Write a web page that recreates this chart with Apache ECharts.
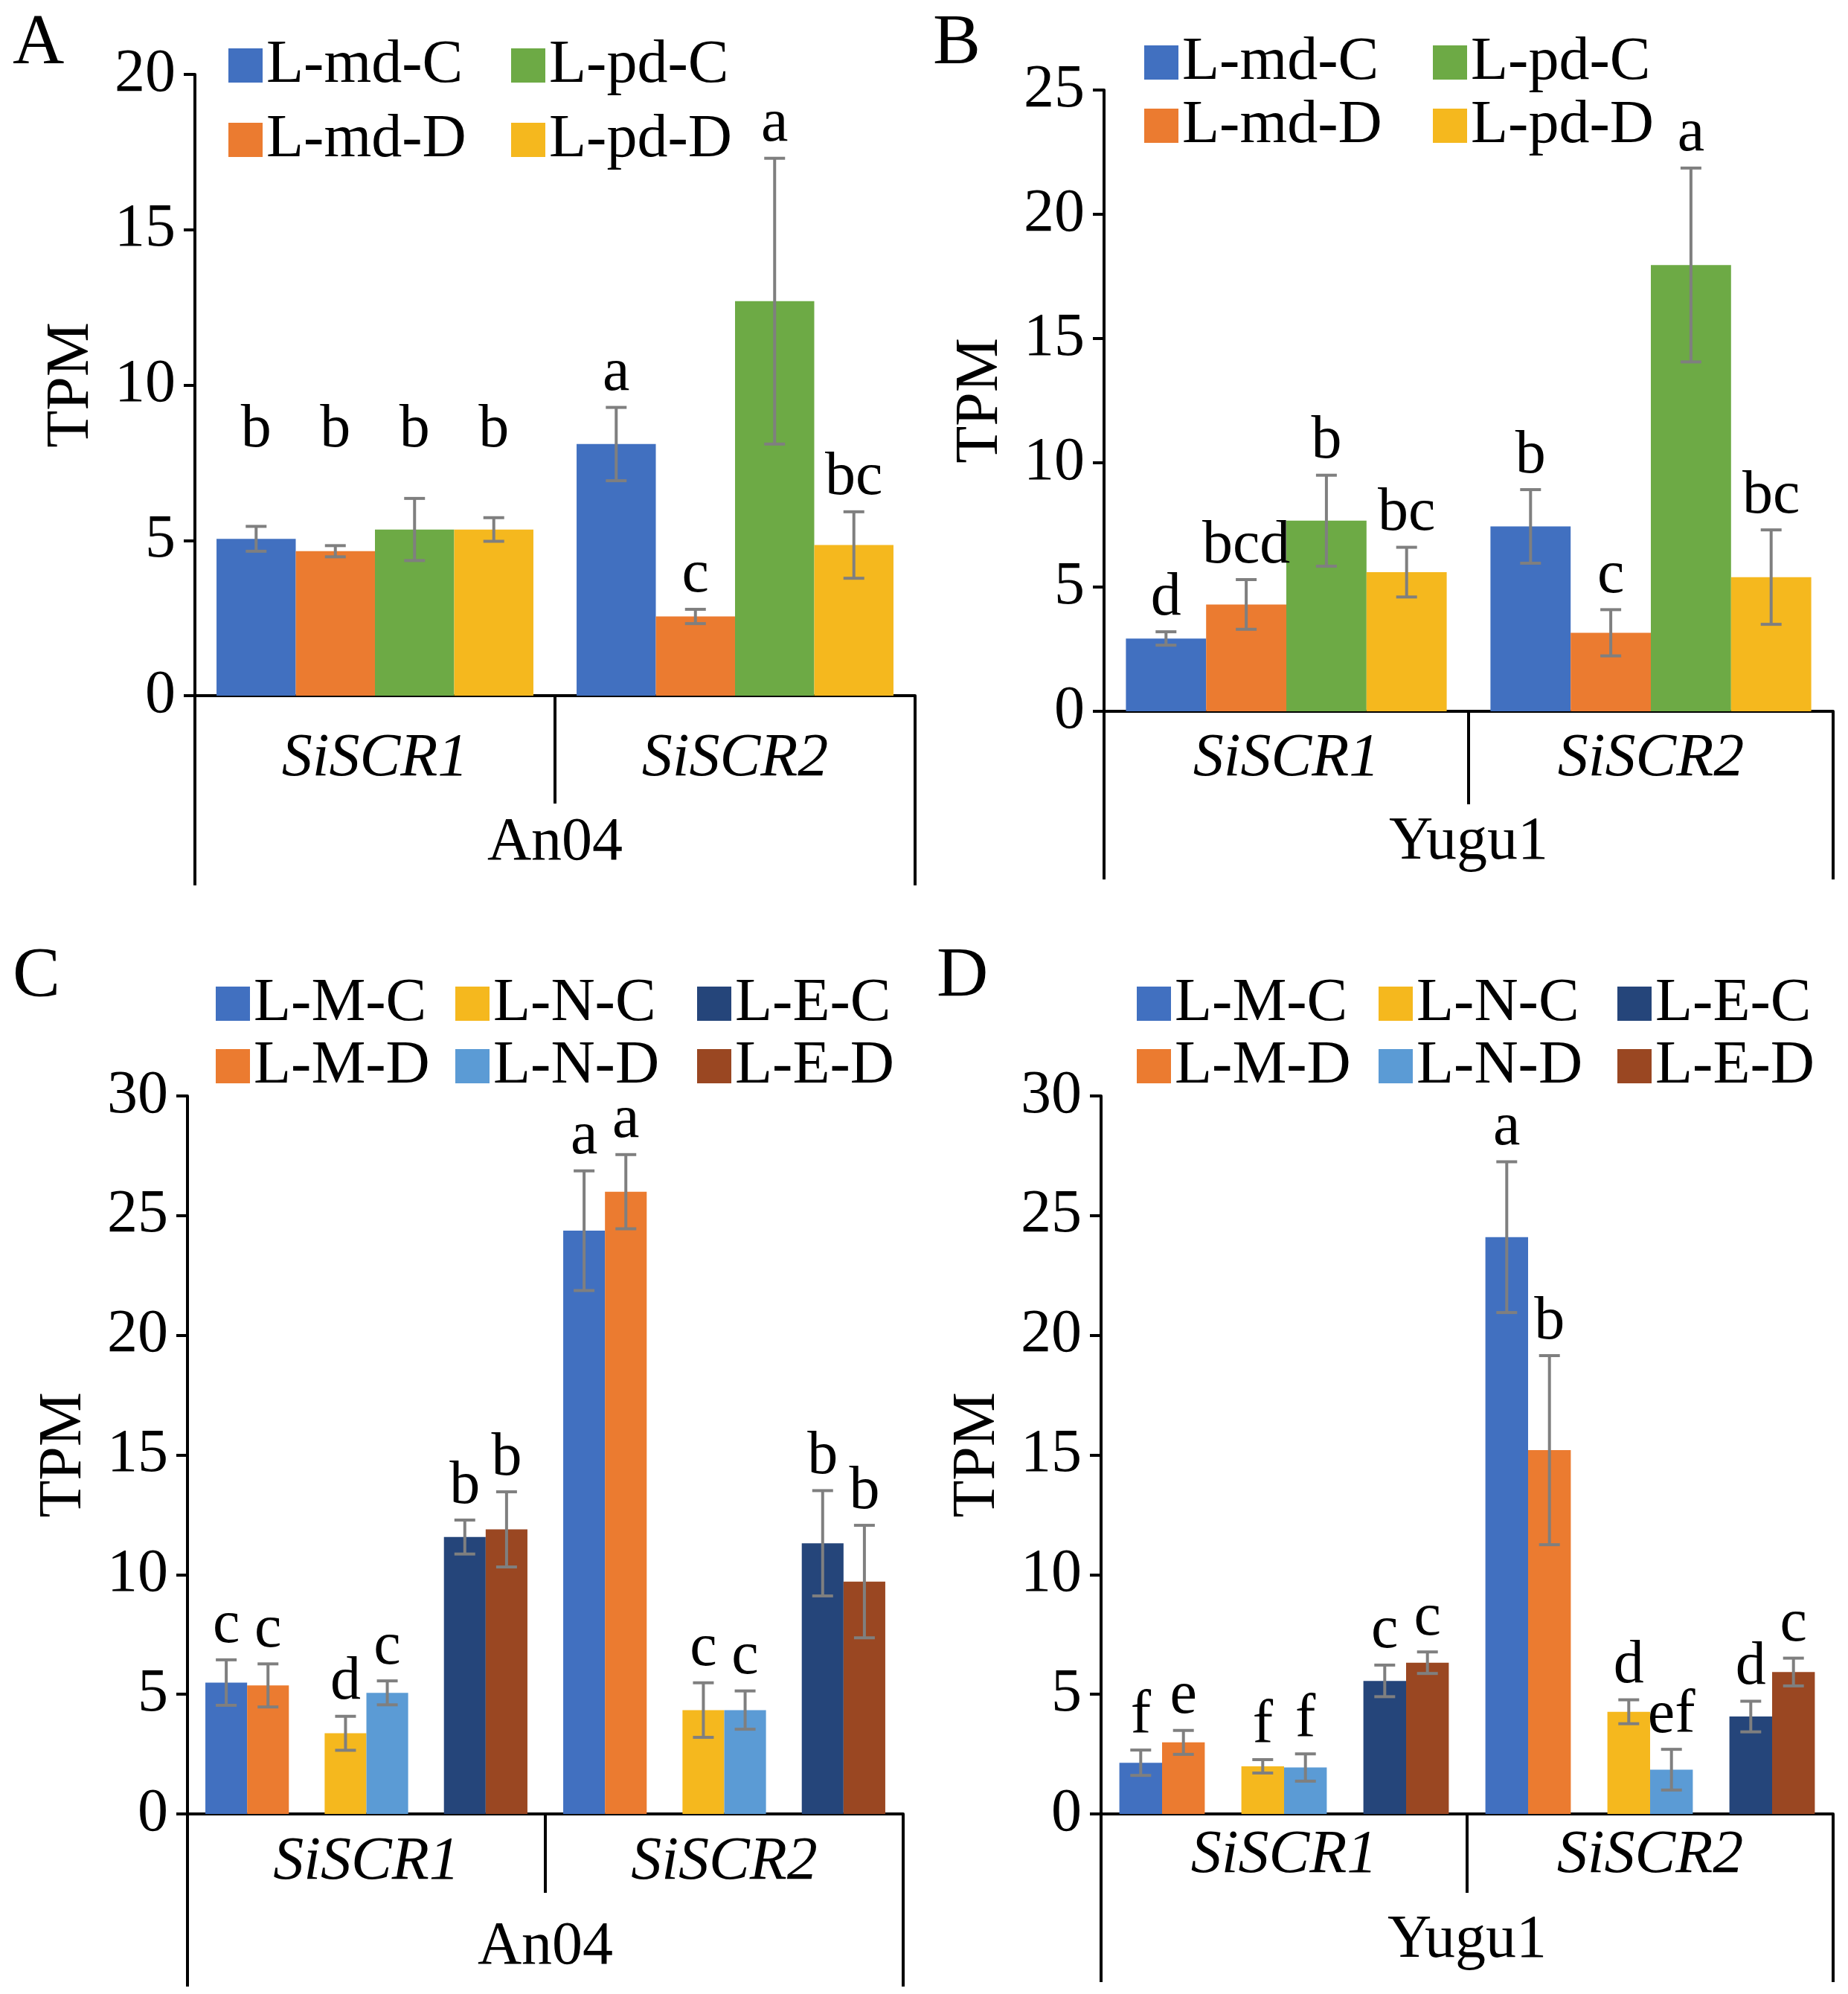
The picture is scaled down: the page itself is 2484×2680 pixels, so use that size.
<!DOCTYPE html>
<html>
<head>
<meta charset="utf-8">
<script src="https://cdn.jsdelivr.net/npm/echarts@6/dist/echarts.min.js"></script>
<style>
  html, body { margin: 0; padding: 0; background: #fff; }
  #chart { width: 2484px; height: 2680px; }
</style>
</head>
<body>
<div id="chart"></div>
<script>
"use strict";
// 基因（两个大类）
var genes = ['SiSCR1', 'SiSCR2'];

// A / B 面板：四个处理，每个数组按基因排列 [SiSCR1, SiSCR2]
var abNames = ['L-md-C', 'L-md-D', 'L-pd-C', 'L-pd-D'];
var aMean = [[5.05, 8.10], [4.65, 2.55], [5.35, 12.70], [5.35, 4.85]];
var aErr  = [[0.40, 1.18], [0.18, 0.23], [1.00, 4.60], [0.38, 1.07]];
var aSig  = [['b', 'a'], ['b', 'c'], ['b', 'a'], ['b', 'bc']];

var bMean = [[2.93, 7.44], [4.30, 3.16], [7.67, 17.96], [5.60, 5.40]];
var bErr  = [[0.27, 1.48], [1.00, 0.93], [1.83, 3.90], [1.00, 1.90]];
var bSig  = [['d', 'b'], ['bcd', 'c'], ['b', 'a'], ['bc', 'bc']];

// C / D 面板：六个处理（按柱子顺序）
var cdNames = ['L-M-C', 'L-M-D', 'L-N-C', 'L-N-D', 'L-E-C', 'L-E-D'];
var cdSub = ['M', 'N', 'E'];
var cMean = [[5.49, 24.37], [5.37, 26.00], [3.37, 4.34], [5.06, 4.34], [11.57, 11.31], [11.89, 9.71]];
var cErr  = [[0.95, 2.50], [0.90, 1.55], [0.71, 1.14], [0.50, 0.80], [0.71, 2.20], [1.57, 2.35]];
var cSig  = [['c', 'a'], ['c', 'a'], ['d', 'c'], ['c', 'c'], ['b', 'b'], ['b', 'b']];

var dMean = [[2.14, 24.10], [2.99, 15.20], [1.99, 4.27], [1.94, 1.85], [5.56, 4.07], [6.32, 5.93]];
var dErr  = [[0.53, 3.15], [0.50, 3.95], [0.28, 0.50], [0.57, 0.85], [0.66, 0.64], [0.45, 0.58]];
var dSig  = [['f', 'a'], ['e', 'b'], ['f', 'd'], ['f', 'ef'], ['c', 'd'], ['c', 'c']];

var abColors = ['#4170C0', '#EB7B30', '#6DAA45', '#F5B81E'];
var cdColors = ['#4170C0', '#EB7B30', '#F5B81E', '#5B9BD5', '#25457A', '#9A4722'];

var FONT = '"Liberation Serif", "Times New Roman", serif';
var FS = 82;

var myChart = echarts.init(document.getElementById('chart'));

var grids = [], xAxes = [], yAxes = [], series = [], legends = [], titles = [];

// 误差线 + 显著性字母
// align: 每个基因组的字母是否对齐到该组最高误差线之上（像素间距），null 为跟随各自误差线
function errRender(n, frac, sigs, groupOf, groupTop, align) {
    return function(params, api) {
        var cat = api.value(0);
        var band = api.size([1, 0])[0];
        var barW = band * frac;
        var cx = api.coord([cat, 0])[0] + (api.value(3) - (n - 1) / 2) * barW;
        var m = api.value(1), e = api.value(2);
        var yTop = api.coord([cat, m + e])[1];
        var yBot = api.coord([cat, m - e])[1];
        var g = groupOf[params.dataIndex];
        var yTxt = yTop - 4;
        if (align && align[g] != null) {
            yTxt = api.coord([cat, groupTop[g]])[1] - align[g];
        }
        var cap = 14;
        var st = { stroke: '#7F7F7F', lineWidth: 4 };
        return {
            type: 'group',
            children: [
                { type: 'line', shape: { x1: cx, y1: yTop, x2: cx, y2: yBot }, style: st },
                { type: 'line', shape: { x1: cx - cap, y1: yTop, x2: cx + cap, y2: yTop }, style: st },
                { type: 'line', shape: { x1: cx - cap, y1: yBot, x2: cx + cap, y2: yBot }, style: st },
                {
                    type: 'text', x: cx, y: yTxt,
                    style: {
                        text: sigs[params.dataIndex], fill: '#000',
                        fontSize: FS, fontFamily: FONT,
                        align: 'center', verticalAlign: 'bottom'
                    }
                }
            ]
        };
    };
}

// 每个面板的坐标轴（主轴 + 基因轴 + 品种轴）
function addAxes(p) {
    var gi = grids.length;
    grids.push({ left: p.left, top: p.top, width: p.width, height: p.height });
    var x0 = xAxes.length;
    xAxes.push({
        type: 'category', gridIndex: gi, data: p.cats, position: 'bottom',
        axisLine: { lineStyle: { color: '#000', width: 4 } },
        axisTick: { show: false }, axisLabel: { show: false }
    });
    xAxes.push({
        type: 'category', gridIndex: gi, data: genes, position: 'bottom',
        axisLine: { show: false },
        axisTick: { show: true, interval: 0, length: p.geneTick, lineStyle: { color: '#000', width: 4 } },
        axisLabel: { interval: 0, margin: p.geneMargin, fontSize: FS, fontFamily: FONT, fontStyle: 'italic', color: '#000' }
    });
    xAxes.push({
        type: 'category', gridIndex: gi, data: [p.cultivar], position: 'bottom',
        axisLine: { show: false },
        axisTick: { show: true, interval: 0, length: p.groupTick, lineStyle: { color: '#000', width: 4 } },
        axisLabel: { interval: 0, margin: p.groupMargin, fontSize: FS, fontFamily: FONT, color: '#000' }
    });
    yAxes.push({
        type: 'value', gridIndex: gi, min: 0, max: p.max, interval: 5,
        name: 'TPM', nameLocation: 'middle', nameGap: 125,
        nameTextStyle: { fontSize: FS, fontFamily: FONT, color: '#000' },
        axisLine: { show: true, lineStyle: { color: '#000', width: 4 } },
        axisTick: { show: true, length: 15, lineStyle: { color: '#000', width: 4 } },
        axisLabel: { margin: 26, fontSize: FS, fontFamily: FONT, color: '#000' },
        splitLine: { show: false }
    });
    titles.push({
        text: p.letter, left: p.letterX, top: p.letterY, padding: 0,
        textStyle: { fontSize: 96, fontWeight: 'normal', fontFamily: FONT, color: '#000' }
    });
    return { x: x0, y: gi };
}

function addLegend(names, left, top, gap, lh) {
    legends.push({
        orient: 'vertical', left: left, top: top, itemGap: gap,
        itemWidth: 46, itemHeight: 46, icon: 'rect', selectedMode: false,
        textStyle: { fontSize: FS, fontFamily: FONT, color: '#000', lineHeight: lh },
        data: names
    });
}

// 面板 A、B：四组柱子
function panelAB(p, mean, err, sig) {
    var ax = addAxes(p);
    var errData = [], letters = [], groupOf = [];
    var groupTop = genes.map(function() { return 0; });
    for (var i = 0; i < abNames.length; i++) {
        series.push({
            name: abNames[i], type: 'bar', xAxisIndex: ax.x, yAxisIndex: ax.y,
            data: mean[i], barGap: 0, barCategoryGap: '12%',
            itemStyle: { color: abColors[i] }
        });
        for (var g = 0; g < genes.length; g++) {
            errData.push([g, mean[i][g], err[i][g], i]);
            letters.push(sig[i][g]);
            groupOf.push(g);
            groupTop[g] = Math.max(groupTop[g], mean[i][g] + err[i][g]);
        }
    }
    series.push({
        type: 'custom', xAxisIndex: ax.x, yAxisIndex: ax.y, z: 3,
        renderItem: errRender(4, 0.22, letters, groupOf, groupTop, p.sigAlign),
        encode: { x: 0, y: 1 }, data: errData, silent: true
    });
    addLegend([abNames[0], abNames[1]], p.legX[0], p.legTop, p.legGap, p.legLh);
    addLegend([abNames[2], abNames[3]], p.legX[1], p.legTop, p.legGap, p.legLh);
}

// 面板 C、D：三对柱子（C/D 两个堆叠位）
function panelCD(p, key, mean, err, sig) {
    var cats = [];
    genes.forEach(function(g) { cdSub.forEach(function(s) { cats.push(g + ' ' + s); }); });
    p.cats = cats;
    var ax = addAxes(p);
    var errData = [], letters = [], groupOf = [];
    for (var i = 0; i < cdNames.length; i++) {
        var pair = Math.floor(i / 2), cond = i % 2;
        var data = cats.map(function() { return '-'; });
        for (var g = 0; g < genes.length; g++) {
            data[g * 3 + pair] = mean[i][g];
            errData.push([g * 3 + pair, mean[i][g], err[i][g], cond]);
            letters.push(sig[i][g]);
            groupOf.push(g);
        }
        series.push({
            name: cdNames[i], type: 'bar', xAxisIndex: ax.x, yAxisIndex: ax.y,
            stack: key + (cond ? 'D' : 'C'), data: data,
            barGap: 0, barCategoryGap: '30%',
            itemStyle: { color: cdColors[i] }
        });
    }
    series.push({
        type: 'custom', xAxisIndex: ax.x, yAxisIndex: ax.y, z: 3,
        renderItem: errRender(2, 0.35, letters, groupOf, [], null),
        encode: { x: 0, y: 1 }, data: errData, silent: true
    });
    for (var c = 0; c < 3; c++) {
        addLegend([cdNames[c * 2], cdNames[c * 2 + 1]], p.legX[c], p.legTop, p.legGap, p.legLh);
    }
}

panelAB({
    left: 262, top: 100, width: 968, height: 835, max: 20, cats: genes,
    cultivar: 'An04', geneTick: 145, geneMargin: 44, groupTick: 255, groupMargin: 157,
    letter: 'A', letterX: 17, letterY: 12, sigAlign: [50, null],
    legX: [302, 682], legTop: 42, legGap: 18, legLh: 82
}, aMean, aErr, aSig);

panelAB({
    left: 1484, top: 121, width: 980, height: 835, max: 25, cats: genes,
    cultivar: 'Yugu1', geneTick: 125, geneMargin: 23, groupTick: 226, groupMargin: 135,
    letter: 'B', letterX: 1254, letterY: 12, sigAlign: null,
    legX: [1533, 1921], legTop: 38, legGap: 3, legLh: 78
}, bMean, bErr, bSig);

panelCD({
    left: 252, top: 1473, width: 962, height: 965, max: 30,
    cultivar: 'An04', geneTick: 106, geneMargin: 24, groupTick: 232, groupMargin: 138,
    letter: 'C', letterX: 17, letterY: 1266,
    legX: [285, 607, 932], legTop: 1303, legGap: 2, legLh: 74
}, 'c', cMean, cErr, cSig);

panelCD({
    left: 1480, top: 1473, width: 984, height: 965, max: 30,
    cultivar: 'Yugu1', geneTick: 106, geneMargin: 15, groupTick: 226, groupMargin: 129,
    letter: 'D', letterX: 1259, letterY: 1266,
    legX: [1523, 1848, 2169], legTop: 1303, legGap: 2, legLh: 74
}, 'd', dMean, dErr, dSig);

var option = {
    backgroundColor: '#fff',
    animation: false,
    title: titles,
    legend: legends,
    grid: grids,
    xAxis: xAxes,
    yAxis: yAxes,
    series: series
};
myChart.setOption(option);
</script>
</body>
</html>
